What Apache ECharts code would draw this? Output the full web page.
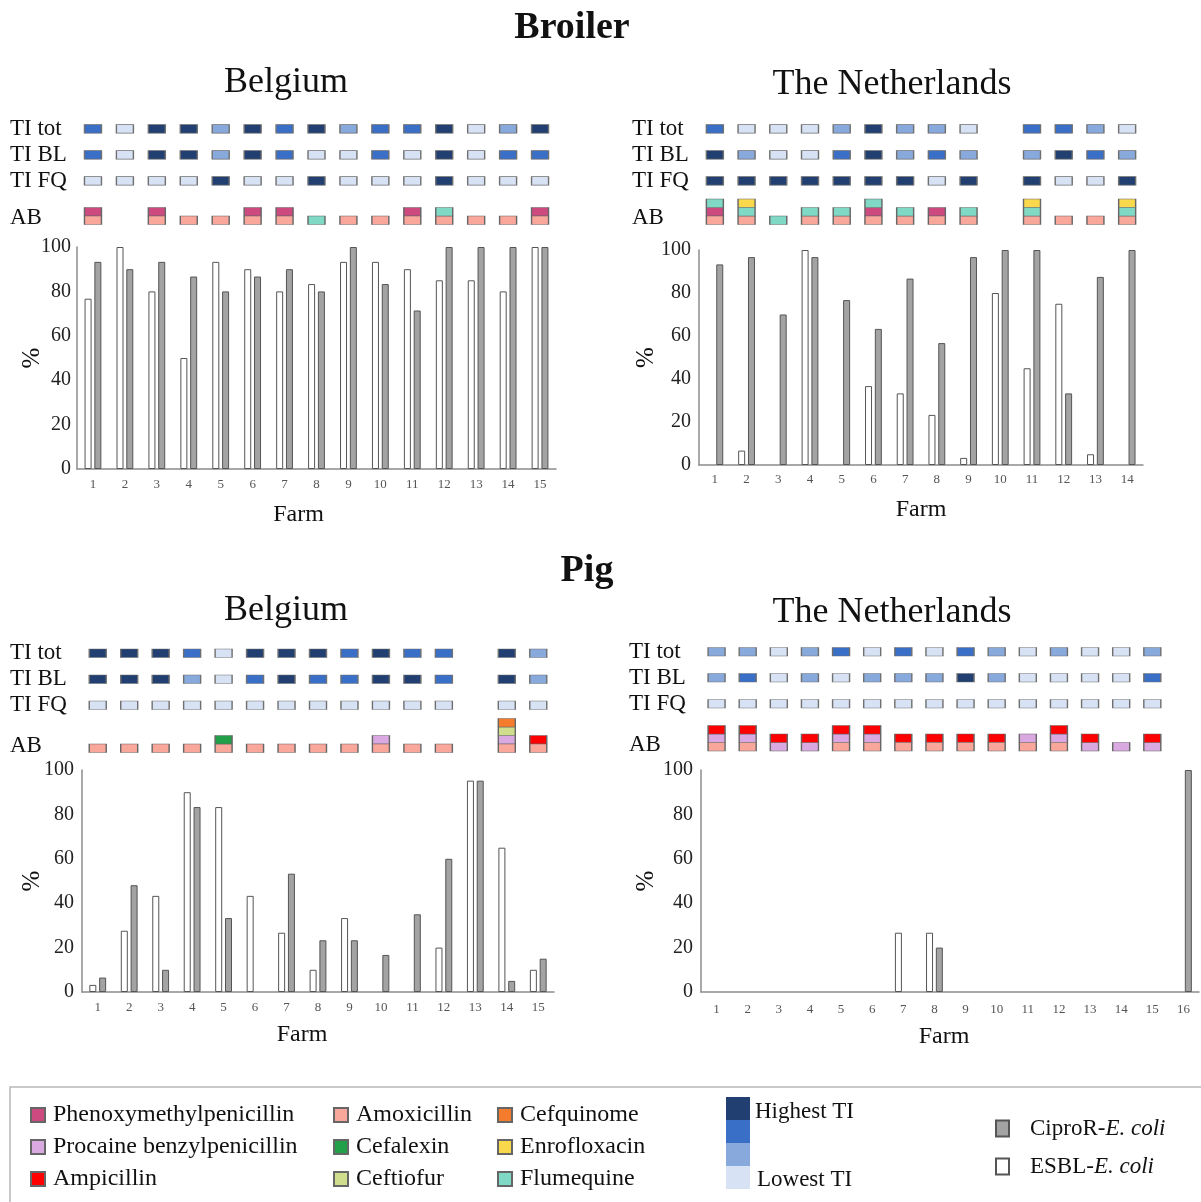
<!DOCTYPE html>
<html><head><meta charset="utf-8">
<script src="https://cdn.jsdelivr.net/npm/echarts@6/dist/echarts.min.js"></script>
<style>html,body{margin:0;padding:0;background:#fff}#c{width:1201px;height:1202px}</style>
</head><body><div id="c"></div>
<script>
// ---------------- DATA ----------------
const broilerBelgiumFarms = ['1','2','3','4','5','6','7','8','9','10','11','12','13','14','15'];
const broilerBelgiumEsbl  = [76.7,100,80,50,93.3,90,80,83.3,93.3,93.3,90,85,85,80,100];
const broilerBelgiumCipro = [93.3,90,93.3,86.7,80,86.7,90,80,100,83.3,71.4,100,100,100,100];
const broilerBelgiumTiTot = [3,1,4,4,2,4,3,4,2,3,3,4,1,2,4];
const broilerBelgiumTiBl  = [3,1,4,4,2,4,3,1,1,3,1,4,1,3,3];
const broilerBelgiumTiFq  = [1,1,1,1,4,1,1,4,1,1,1,4,1,1,1];
const broilerBelgiumAb = [['AMX','PHX'],[],['AMX','PHX'],['AMX'],['AMX'],['AMX','PHX'],['AMX','PHX'],['FLU'],['AMX'],['AMX'],['AMX','PHX'],['AMX','FLU'],['AMX'],['AMX'],['AMX','PHX']];

const broilerNlFarms = ['1','2','3','4','5','6','7','8','9','10','11','12','13','14'];
const broilerNlEsbl  = [0,6.7,0,100,0,36.7,33.3,23.3,3.3,80,45,75,5,0];
const broilerNlCipro = [93.3,96.7,70,96.7,76.7,63.3,86.7,56.7,96.7,100,100,33.3,87.5,100];
const broilerNlTiTot = [3,1,1,1,2,4,2,2,1,null,3,3,2,1];
const broilerNlTiBl  = [4,2,1,1,3,4,2,3,2,null,2,4,3,2];
const broilerNlTiFq  = [4,4,4,4,4,4,4,1,4,null,4,1,1,4];
const broilerNlAb = [['AMX','PHX','FLU'],['AMX','FLU','ENR'],['FLU'],['AMX','FLU'],['AMX','FLU'],['AMX','PHX','FLU'],['AMX','FLU'],['AMX','PHX'],['AMX','FLU'],[],['AMX','FLU','ENR'],['AMX'],['AMX'],['AMX','FLU','ENR']];

const pigBelgiumFarms = ['1','2','3','4','5','6','7','8','9','10','11','12','13','14','15'];
const pigBelgiumEsbl  = [3.2,27.6,43.3,90,83.3,43.3,26.7,10,33.3,0,0,20,95.2,65,10];
const pigBelgiumCipro = [6.5,48.1,10,83.3,33.3,0,53.3,23.3,23.3,16.7,35,60,95.2,5,15];
const pigBelgiumTiTot = [4,4,4,3,1,4,4,4,3,4,3,3,null,4,2];
const pigBelgiumTiBl  = [4,4,4,2,1,3,4,3,3,4,4,3,null,4,2];
const pigBelgiumTiFq  = [1,1,1,1,1,1,1,1,1,1,1,1,null,1,1];
const pigBelgiumAb = [['AMX'],['AMX'],['AMX'],['AMX'],['AMX','CFX'],['AMX'],['AMX'],['AMX'],['AMX'],['AMX','PRO'],['AMX'],['AMX'],[],['AMX','PRO','CTF','CFQ'],['AMX','AMP']];

const pigNlFarms = ['1','2','3','4','5','6','7','8','9','10','11','12','13','14','15','16'];
const pigNlEsbl  = [0,0,0,0,0,0,26.7,26.7,0,0,0,0,0,0,0,0];
const pigNlCipro = [0,0,0,0,0,0,0,20,0,0,0,0,0,0,0,100];
const pigNlTiTot = [2,2,1,2,3,1,3,1,3,2,1,2,1,1,2,null];
const pigNlTiBl  = [2,3,1,2,1,2,2,2,4,2,1,1,1,1,3,null];
const pigNlTiFq  = [1,1,1,1,1,1,1,1,1,1,1,1,1,1,1,null];
const pigNlAb = [['AMX','PRO','AMP'],['AMX','PRO','AMP'],['PRO','AMP'],['PRO','AMP'],['AMX','PRO','AMP'],['AMX','PRO','AMP'],['AMX','AMP'],['AMX','AMP'],['AMX','AMP'],['AMX','AMP'],['AMX','PRO'],['AMX','PRO','AMP'],['PRO','AMP'],['PRO'],['PRO','AMP'],[]];

const abCodes = ['PHX','PRO','AMP','AMX','CFX','CTF','CFQ','ENR','FLU'];
const abNames = ['Phenoxymethylpenicillin','Procaine benzylpenicillin','Ampicillin','Amoxicillin','Cefalexin','Ceftiofur','Cefquinome','Enrofloxacin','Flumequine'];
const rowLabels = ['TI tot','TI BL','TI FQ','AB'];
const seriesNames = ['ESBL-E. coli','CiproR-E. coli'];
const titleTexts = ['Broiler','Pig'];
const countryTexts = ['Belgium','The Netherlands'];

// ---------------- STYLE ----------------
const FONT = '"Liberation Serif","Times New Roman",serif';
const abColors = {PHX:'#cc4a80',PRO:'#dba9e2',AMP:'#ff0000',AMX:'#f9a69b',CFX:'#22a049',CTF:'#d0dd8c',CFQ:'#f47c2c',ENR:'#f9d84c',FLU:'#7fd9c5'};
const tiColors = {1:'#d7e2f4',2:'#88a9dc',3:'#3a6fc7',4:'#213f70'};

const panels = [
  {farms:broilerBelgiumFarms, esbl:broilerBelgiumEsbl, cipro:broilerBelgiumCipro, tot:broilerBelgiumTiTot, bl:broilerBelgiumTiBl, fq:broilerBelgiumTiFq, ab:broilerBelgiumAb},
  {farms:broilerNlFarms, esbl:broilerNlEsbl, cipro:broilerNlCipro, tot:broilerNlTiTot, bl:broilerNlTiBl, fq:broilerNlTiFq, ab:broilerNlAb},
  {farms:pigBelgiumFarms, esbl:pigBelgiumEsbl, cipro:pigBelgiumCipro, tot:pigBelgiumTiTot, bl:pigBelgiumTiBl, fq:pigBelgiumTiFq, ab:pigBelgiumAb},
  {farms:pigNlFarms, esbl:pigNlEsbl, cipro:pigNlCipro, tot:pigNlTiTot, bl:pigNlTiBl, fq:pigNlTiFq, ab:pigNlAb}
];
const layouts = [
  {left:77,  width:479, barTop:247, barH:222, base:224.5, fqOff:39.3, labelX:10,  xlm:9,  ylm:6, farmGap:34, farmShift:36, pctGap:32},
  {left:699, width:444, barTop:250, barH:215, base:224.5, fqOff:39.3, labelX:632, xlm:8,  ylm:8, farmGap:33, farmShift:0,  pctGap:40},
  {left:82,  width:472, barTop:770, barH:222, base:752.5, fqOff:43,   labelX:10,  xlm:9,  ylm:8, farmGap:31, farmShift:32, pctGap:37},
  {left:701, width:498, barTop:770, barH:222, base:751,   fqOff:43,   labelX:629, xlm:11, ylm:8, farmGap:33, farmShift:12, pctGap:42}
];

const option = {
  animation:false,
  textStyle:{fontFamily:FONT},
  grid:[], xAxis:[], yAxis:[], series:[], legend:[], graphic:[]
};
const noZero = arr => arr.map(v => v === 0 ? '-' : v);

panels.forEach((p,k) => {
  const L = layouts[k];
  const g = option.grid.length;
  option.grid.push({left:L.left, width:L.width, top:L.base-110, height:110});
  option.grid.push({left:L.left, width:L.width, top:L.barTop, height:L.barH});
  const abV = 4.25, fqV = 4.25+L.fqOff, blV = fqV+26, totV = blV+26;
  const labelAt = [[totV,rowLabels[0]],[blV,rowLabels[1]],[fqV,rowLabels[2]],[abV+2,rowLabels[3]]];
  option.xAxis.push({gridIndex:g, type:'category', data:p.farms, show:false});
  option.xAxis.push({gridIndex:g+1, type:'category', data:p.farms,
    axisLine:{lineStyle:{color:'#8c8c8c', width:1.5}}, axisTick:{show:false},
    axisLabel:{fontSize:13, color:'#555', margin:L.xlm, interval:0, fontFamily:FONT},
    name:'Farm', nameLocation:'middle', nameGap:L.farmGap, nameMoveOverlap:false,
    nameTextStyle:{fontSize:24, color:'#111', fontFamily:FONT, padding:[0,L.farmShift,0,0]}});
  option.yAxis.push({gridIndex:g, type:'value', min:0, max:110, splitLine:{show:false}, axisLine:{show:false}, axisTick:{show:false},
    axisLabel:{customValues:labelAt.map(d=>d[0]), align:'left', margin:L.left-L.labelX, fontSize:23, color:'#111', fontFamily:FONT,
      formatter:v=>{let best=labelAt[0];labelAt.forEach(d=>{if(Math.abs(d[0]-v)<Math.abs(best[0]-v))best=d;});return best[1];}}});
  option.yAxis.push({gridIndex:g+1, type:'value', min:0, max:100, interval:20, splitLine:{show:false},
    axisLine:{show:true, lineStyle:{color:'#8c8c8c', width:1.5}}, axisTick:{show:false},
    axisLabel:{fontSize:20, color:'#222', margin:L.ylm, fontFamily:FONT},
    name:'%', nameLocation:'middle', nameGap:L.pctGap, nameMoveOverlap:false, nameTextStyle:{fontSize:25, color:'#111', fontFamily:FONT}});
  // TI boxes
  const tiData = [];
  [[p.tot,totV],[p.bl,blV],[p.fq,fqV]].forEach(([arr,yv]) => arr.forEach((lvl,i) => {
    if (lvl != null) tiData.push({value:[i,yv], itemStyle:{color:tiColors[lvl]}});
  }));
  option.series.push({type:'scatter', name:'TI', xAxisIndex:g, yAxisIndex:g, symbol:'rect', symbolSize:[17,8.5],
    itemStyle:{borderColor:'#707070', borderWidth:1, opacity:1}, data:tiData, silent:true});
  // AB boxes
  abCodes.forEach((code,ci) => {
    const d = [];
    p.ab.forEach((list,i) => { const idx = list.indexOf(code); if (idx >= 0) d.push([i, abV + 8.5*idx]); });
    if (d.length) option.series.push({type:'scatter', name:abNames[ci], xAxisIndex:g, yAxisIndex:g, symbol:'rect', symbolSize:[17,8.5],
      itemStyle:{color:abColors[code], borderColor:'#666', borderWidth:1, opacity:1}, data:d, silent:true});
  });
  // bars
  option.series.push({type:'bar', name:seriesNames[0], xAxisIndex:g+1, yAxisIndex:g+1, data:noZero(p.esbl), barWidth:7, barGap:'40%',
    itemStyle:{color:'#ffffff', borderColor:'#555', borderWidth:1}, silent:true});
  option.series.push({type:'bar', name:seriesNames[1], xAxisIndex:g+1, yAxisIndex:g+1, data:noZero(p.cipro), barWidth:7, barGap:'40%',
    itemStyle:{color:'#a3a3a3', borderColor:'#555', borderWidth:1}, silent:true});
});

const legTxt = {fontSize:24, color:'#111', fontFamily:FONT, padding:[0,0,0,3]};
[[0,1,2,25],[3,4,5,328],[6,7,8,492]].forEach(c => {
  option.legend.push({data:[abNames[c[0]],abNames[c[1]],abNames[c[2]]], left:c[3], top:1098, orient:'vertical', itemGap:8,
    itemWidth:14, itemHeight:14, icon:'rect', selectedMode:false, textStyle:legTxt, itemStyle:{opacity:1}});
});
option.legend.push({data:[seriesNames[1],seriesNames[0]], left:990, top:1112, orient:'vertical', itemGap:15,
  itemWidth:13, itemHeight:16, icon:'rect', selectedMode:false,
  formatter:n=>'{n|'+n.replace('E. coli','')+'}{i|E. coli}',
  textStyle:{fontSize:23, color:'#111', fontFamily:FONT, padding:[0,0,0,16],
    rich:{n:{fontSize:23, fontFamily:FONT, color:'#111'}, i:{fontSize:23, fontFamily:FONT, fontStyle:'italic', color:'#111'}}}});

// graphics: titles, legend frame, TI scale
function txt(t,x,y,size,bold){
  return {type:'text', x:x, y:y, style:{text:t, font:(bold?'bold ':'')+size+'px '+FONT, fill:'#111', align:'center', verticalAlign:'middle', textAlign:'center', textVerticalAlign:'middle'}};
}
option.graphic.push(txt(titleTexts[0],572,28,38,true));
option.graphic.push(txt(titleTexts[1],587,571,38,true));
option.graphic.push(txt(countryTexts[0],286,83,36,false));
option.graphic.push(txt(countryTexts[1],892,85,36,false));
option.graphic.push(txt(countryTexts[0],286,611,36,false));
option.graphic.push(txt(countryTexts[1],892,613,36,false));
option.graphic.push({type:'rect', shape:{x:10,y:1087,width:1200,height:130}, style:{fill:'none', stroke:'#b8b8b8', lineWidth:1.5}, z:-1});
[4,3,2,1].forEach((lvl,k) => option.graphic.push({type:'rect', shape:{x:726,y:1097+k*23,width:24,height:23}, style:{fill:tiColors[lvl]}}));
option.graphic.push({type:'text', x:755, y:1112, style:{text:'Highest TI', font:'23px '+FONT, fill:'#111', verticalAlign:'middle', textVerticalAlign:'middle'}});
option.graphic.push({type:'text', x:757, y:1180, style:{text:'Lowest TI', font:'23px '+FONT, fill:'#111', verticalAlign:'middle', textVerticalAlign:'middle'}});

const chart = echarts.init(document.getElementById('c'), null, {renderer:'canvas'});
chart.setOption(option);
</script>
</body></html>
